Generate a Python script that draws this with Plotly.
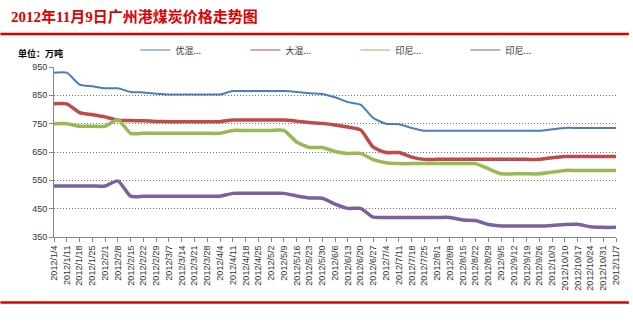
import plotly.graph_objects as go

dates = ["2012/1/4","2012/1/11","2012/1/18","2012/1/25","2012/2/1","2012/2/8","2012/2/15","2012/2/22",
         "2012/2/29","2012/3/7","2012/3/14","2012/3/21","2012/3/28","2012/4/4","2012/4/11","2012/4/18",
         "2012/4/25","2012/5/2","2012/5/9","2012/5/16","2012/5/23","2012/5/30","2012/6/6","2012/6/13",
         "2012/6/20","2012/6/27","2012/7/4","2012/7/11","2012/7/18","2012/7/25","2012/8/1","2012/8/8",
         "2012/8/15","2012/8/22","2012/8/29","2012/9/5","2012/9/12","2012/9/19","2012/9/26","2012/10/3",
         "2012/10/10","2012/10/17","2012/10/24","2012/10/31","2012/11/7"]

youhun = [930,930,888,882,875,875,862,860,856,853,853,853,853,853,865,865,865,865,865,862,857,855,843,826,
          817,770,750,748,735,725,725,725,725,725,725,725,725,725,725,730,735,735,735,735,735]
dahun = [820,820,789,782,774,762,761,760,758,757,757,757,757,757,763,763,763,763,763,759,754,751,745,738,
         728,667,648,648,632,624,624,624,624,624,624,624,624,624,624,630,634,634,634,634,634]
yinni1 = [750,750,741,741,741,764,716,716,716,716,716,716,716,716,726,726,726,726,726,685,666,666,652,645,
          645,623,612,609,609,609,609,609,609,609,591,573,573,573,573,579,585,585,585,585,585]
yinni2 = [530,530,530,530,530,548,494,494,494,494,494,494,494,494,504,504,504,504,504,495,488,487,466,451,
          451,420,419,419,419,419,419,419,410,408,394,389,389,389,389,391,394,395,386,384,384]

names = ["优混...", "大混...", "印尼...", "印尼..."]
series = [youhun, dahun, yinni1, yinni2]
colors = ["#4A7EBB", "#BE4B48", "#98B954", "#7D60A0"]
widths = [2, 3.5, 3.5, 3.5]
yticks = [350, 450, 550, 650, 750, 850, 950]

W, H = 633, 330
L, R, T, B = 54, 13, 67, 93
pw, ph = W - L - R, H - T - B

def px(x):
    return (x - L) / pw

def py(y):
    return (H - B - y) / ph

fig = go.Figure()
for n, s, c, w in zip(names, series, colors, widths):
    fig.add_trace(go.Scatter(x=dates, y=s, mode="lines", name=n, showlegend=False,
                             line=dict(color=c, width=w, shape="spline", smoothing=0.6)))
for n, c in zip(names, colors):
    fig.add_trace(go.Scatter(x=[None], y=[None], mode="lines", name=n,
                             line=dict(color=c, width=1)))

fig.update_layout(
    width=W, height=H,
    margin=dict(l=L, r=R, t=T, b=B),
    paper_bgcolor="white", plot_bgcolor="white",
    font=dict(family="Liberation Sans, Arial, Noto Sans CJK SC", size=9, color="#333333"),
    showlegend=True,
    legend=dict(orientation="h", x=px(136), xanchor="left", y=py(50), yanchor="middle",
                entrywidth=65, entrywidthmode="pixels", font=dict(size=9, color="#333333",
                family="Noto Sans CJK SC"), bgcolor="rgba(0,0,0,0)", itemwidth=30),
    xaxis=dict(type="category", categoryorder="array", categoryarray=dates,
               range=[0, len(dates) - 1], tickangle=-90,
               tickmode="linear", tick0=0, dtick=1,
               showline=True, linecolor="#868686", linewidth=1, ticks="outside", ticklen=4,
               tickcolor="#868686", showgrid=False, tickfont=dict(size=9), zeroline=False),
    yaxis=dict(range=[350, 950], tickvals=yticks, showline=True, linecolor="#868686", linewidth=1,
               ticks="outside", ticklen=4, tickcolor="#868686", showgrid=True, gridcolor="#707070",
               griddash="1px,2px", gridwidth=1, tickfont=dict(size=9), zeroline=False),
    annotations=[
        dict(text="<b>2012年11月9日广州港煤炭价格走势图</b>", xref="paper", yref="paper",
             x=px(9), y=py(17), xanchor="left", yanchor="middle", showarrow=False,
             font=dict(family="Liberation Serif, Noto Sans CJK SC", size=15, color="#E00000")),
        dict(text="<b>单位：万吨</b>", xref="paper", yref="paper", x=px(16), y=py(53),
             xanchor="left", yanchor="middle", showarrow=False,
             font=dict(family="Noto Sans CJK SC", size=9, color="#000000")),
    ],
    shapes=[
        dict(type="line", xref="paper", yref="paper", x0=px(0), x1=px(W), y0=py(34), y1=py(34),
             line=dict(color="#E00000", width=2.5)),
        dict(type="line", xref="paper", yref="paper", x0=px(0), x1=px(W), y0=py(302.5), y1=py(302.5),
             line=dict(color="#E00000", width=2.5)),
    ],
)

fig.write_html("out.html")
